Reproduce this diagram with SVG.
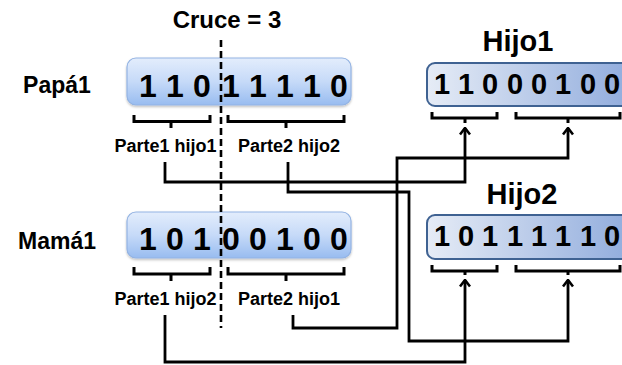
<svg xmlns="http://www.w3.org/2000/svg" width="622" height="365" viewBox="0 0 622 365">
  <defs>
    <linearGradient id="parentFill" x1="0" y1="0" x2="0" y2="1">
      <stop offset="0" stop-color="#e3edfc"/>
      <stop offset="0.5" stop-color="#c6daf8"/>
      <stop offset="1" stop-color="#98bcf0"/>
    </linearGradient>
    <linearGradient id="childFill" x1="0" y1="0" x2="1" y2="0">
      <stop offset="0" stop-color="#e6ecf6"/>
      <stop offset="1" stop-color="#8eaadc"/>
    </linearGradient>
    <filter id="soft" x="-5%" y="-10%" width="110%" height="130%">
      <feDropShadow dx="0" dy="1.5" stdDeviation="1.2" flood-color="#000" flood-opacity="0.25"/>
    </filter>
    <!-- open chevron, drawn pointing along +x so orient="auto" turns it with the line -->
    <marker id="arrow" viewBox="0 0 10 12" refX="8.5" refY="6" markerWidth="10" markerHeight="12" markerUnits="userSpaceOnUse" orient="auto">
      <path d="M2,1 L8.5,6 L2,11" fill="none" stroke="#000" stroke-width="2.6"/>
    </marker>
  </defs>
  <style>
    text { font-family: "Liberation Sans", Arial, sans-serif; font-weight: bold; fill: #000; }
    .title { font-size: 24px; text-anchor: middle; }
    .name { font-size: 23px; text-anchor: middle; }
    .child { font-size: 29px; text-anchor: middle; }
    .bitP { font-size: 32px; text-anchor: middle; }
    .bitC { font-size: 29px; text-anchor: middle; }
    .part { font-size: 18px; text-anchor: middle; }
    .parentBox { fill: url(#parentFill); stroke: #93b3e3; stroke-width: 1.2; filter: url(#soft); }
    .childBox { fill: url(#childFill); stroke: #3f6292; stroke-width: 2; }
    .brace { fill: none; stroke: #000; stroke-width: 3; stroke-linejoin: miter; }
    .wire { fill: none; stroke: #000; stroke-width: 2.8; stroke-linejoin: miter; }
    .cut { stroke: #000; stroke-width: 2.6; stroke-dasharray: 7 4; }
  </style>

  <!-- parent 1 -->
  <g id="papa1">
    <text class="name" x="57" y="93">Papá1</text>
    <rect class="parentBox" x="127" y="58" width="224" height="47" rx="9"/>
    <text class="bitP" x="148" y="97">1</text>
    <text class="bitP" x="175" y="97">1</text>
    <text class="bitP" x="202" y="97">0</text>
    <text class="bitP" x="231" y="97">1</text>
    <text class="bitP" x="258" y="97">1</text>
    <text class="bitP" x="285" y="97">1</text>
    <text class="bitP" x="312" y="97">1</text>
    <text class="bitP" x="339" y="97">0</text>
    <path class="brace" d="M134,115 V121.5 H210 V115 M171,121.5 V128"/>
    <path class="brace" d="M228,115 V121.5 H344 V115 M286,121.5 V128"/>
    <text class="part" x="165.5" y="152">Parte1 hijo1</text>
    <text class="part" x="289" y="152">Parte2 hijo2</text>
  </g>

  <!-- parent 2 -->
  <g id="mama1">
    <text class="name" x="57" y="249">Mamá1</text>
    <rect class="parentBox" x="127" y="212" width="224" height="46" rx="9"/>
    <text class="bitP" x="148" y="250">1</text>
    <text class="bitP" x="175" y="250">0</text>
    <text class="bitP" x="202" y="250">1</text>
    <text class="bitP" x="231" y="250">0</text>
    <text class="bitP" x="258" y="250">0</text>
    <text class="bitP" x="285" y="250">1</text>
    <text class="bitP" x="312" y="250">0</text>
    <text class="bitP" x="339" y="250">0</text>
    <path class="brace" d="M134,267 V274 H210 V267 M171,274 V281"/>
    <path class="brace" d="M228,267 V274 H344 V267 M286,274 V281"/>
    <text class="part" x="165.5" y="305">Parte1 hijo2</text>
    <text class="part" x="289" y="305">Parte2 hijo1</text>
  </g>

  <!-- crossover point, drawn over both parents -->
  <g id="crossover">
    <text class="title" x="227" y="28">Cruce = 3</text>
    <line class="cut" x1="221" y1="40" x2="221" y2="328"/>
  </g>

  <!-- child 1 -->
  <g id="hijo1">
    <text class="child" x="518" y="51">Hijo1</text>
    <rect class="childBox" x="427" y="63" width="210" height="43" rx="8"/>
    <text class="bitC" x="442" y="94">1</text>
    <text class="bitC" x="466" y="94">1</text>
    <text class="bitC" x="490" y="94">0</text>
    <text class="bitC" x="515" y="94">0</text>
    <text class="bitC" x="539" y="94">0</text>
    <text class="bitC" x="563" y="94">1</text>
    <text class="bitC" x="588" y="94">0</text>
    <text class="bitC" x="612" y="94">0</text>
    <path class="brace" d="M432,112 V118 H497 V112 M465,118 V123"/>
    <path class="brace" d="M516,112 V118 H620 V112 M568,118 V123"/>
  </g>

  <!-- child 2 -->
  <g id="hijo2">
    <text class="child" x="522" y="204">Hijo2</text>
    <rect class="childBox" x="427" y="215" width="210" height="44" rx="8"/>
    <text class="bitC" x="442" y="246">1</text>
    <text class="bitC" x="466" y="246">0</text>
    <text class="bitC" x="490" y="246">1</text>
    <text class="bitC" x="515" y="246">1</text>
    <text class="bitC" x="539" y="246">1</text>
    <text class="bitC" x="563" y="246">1</text>
    <text class="bitC" x="588" y="246">1</text>
    <text class="bitC" x="612" y="246">0</text>
    <path class="brace" d="M432,265 V271 H497 V265 M465,271 V275"/>
    <path class="brace" d="M516,265 V271 H620 V265 M568,271 V275"/>
  </g>

  <!-- gene transfer lines -->
  <g id="connectors">
    <path class="wire" marker-end="url(#arrow)" d="M165,162 V182 H465 V128"/>
    <path class="wire" marker-end="url(#arrow)" d="M288,162 V192 H409 V341 H568 V280"/>
    <path class="wire" marker-end="url(#arrow)" d="M293,315 V328 H397 V158 H568 V128"/>
    <path class="wire" marker-end="url(#arrow)" d="M165,315 V362 H465 V280"/>
  </g>
</svg>
